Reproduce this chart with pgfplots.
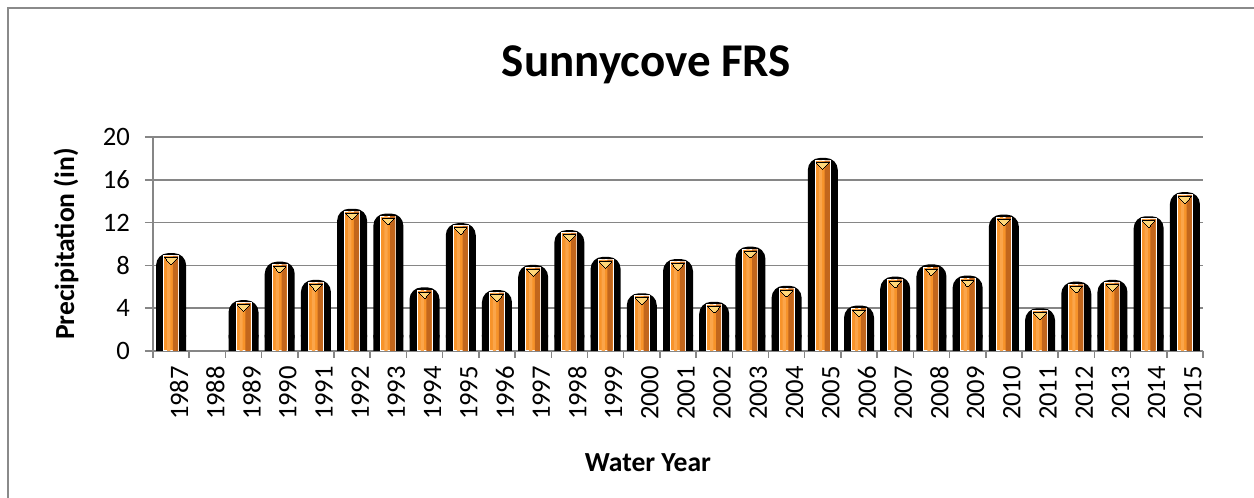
\documentclass[border=0pt]{standalone}
\usepackage{pgfplots}
\pgfplotsset{compat=1.18}
\usepackage{pgfplotstable}
\usepackage{fontspec}
\setmainfont{Carlito}
\definecolor{gridc}{HTML}{868686}
\definecolor{oM}{HTML}{F7932A}
\definecolor{oL}{HTML}{FBA54A}
\definecolor{oR}{HTML}{C2661C}
\definecolor{tri}{HTML}{FFD77A}
\definecolor{borderc}{HTML}{8A8A8A}

\pgfplotstableread{
x v base
0 8.9 1.5
1 0 0
2 4.5 1.5
3 8.1 1.5
4 6.4 1.5
5 13.05 1.5
6 12.6 1.5
7 5.7 1.5
8 11.7 1.5
9 5.45 1.5
10 7.8 1.5
11 11.05 1.5
12 8.55 1.5
13 5.15 1.5
14 8.35 1.5
15 4.35 1.5
16 9.5 1.5
17 5.85 1.5
18 17.8 1.5
19 4.0 1.5
20 6.7 1.5
21 7.85 1.5
22 6.8 1.5
23 12.5 1.5
24 3.75 1.5
25 6.23 1.5
26 6.4 1.5
27 12.35 1.5
28 14.6 1.5
}\data

\begin{document}
\begin{tikzpicture}[x=1pt,y=1pt]
\useasboundingbox (0,0) rectangle (627,249);
\draw[borderc, line width=1pt] (4,0) -- (4,245) -- (627,245);
\begin{axis}[
  at={(76.5pt,73.5pt)}, anchor=south west,
  scale only axis, width=525pt, height=107pt,
  xmin=-0.5, xmax=28.5, ymin=0, ymax=20,
  ytick={0,4,...,20},
  xtick={0,...,28},
  xticklabels={1987,1988,1989,1990,1991,1992,1993,1994,1995,1996,1997,1998,1999,2000,2001,2002,2003,2004,2005,2006,2007,2008,2009,2010,2011,2012,2013,2014,2015},
  minor xtick={-0.5,0.5,...,28.5},
  axis lines*=left,
  axis line style={gridc, line width=0.75pt},
  ymajorgrids, grid style={gridc, line width=0.75pt},
  tick align=outside,
  major tick length=4pt,
  minor tick length=3.5pt,
  major x tick style={draw=none},
  minor x tick style={gridc, line width=0.75pt},
  ytick style={gridc, line width=0.75pt},
  tick label style={font=\fontsize{13.3}{15}\selectfont},
  /pgf/number format/assume math mode=true,
  xticklabel style={rotate=90, anchor=east, yshift=-4pt},
  yticklabel style={xshift=-4pt},
  ylabel={Precipitation (in)}, xlabel={Water Year}, title={Sunnycove FRS},
  label style={font=\bfseries\fontsize{13.8}{16}\selectfont},
  ylabel style={at={(axis description cs:-0.0829,0.5)}, anchor=center},
  xlabel style={at={(axis description cs:0.4714,-0.564)}, anchor=base},
  title style={at={(axis description cs:0.470,1.2276)}, anchor=base, font=\bfseries\fontsize{23.5}{27}\selectfont},
]
\addplot[ybar, bar width=15pt, bar shift=0pt, fill=black, draw=none, rounded corners=6pt, yshift=1.3pt, restrict y to domain=0.05:30] table[x=x,y=v]{\data};
\addplot[ybar, bar width=15pt, bar shift=0pt, fill=black, draw=none, restrict y to domain=0.05:30] table[x=x,y=base]{\data};
\addplot[ybar, bar width=7.5pt, bar shift=0pt, draw=white, line width=0.5pt, fill=oM, restrict y to domain=0.05:30] table[x=x,y=v]{\data};
\addplot[ybar, bar width=2.6pt, bar shift=2.2pt, draw=none, fill=oR, restrict y to domain=0.05:30] table[x=x,y=v]{\data};
\addplot[ybar, bar width=1.6pt, bar shift=-1.2pt, draw=none, fill=oL, restrict y to domain=0.05:30] table[x=x,y=v]{\data};
\addplot[only marks, draw=none, fill=tri, mark=triangle*, mark size=3.6pt, mark options={fill=tri, draw=none, line width=0pt, yshift=-2.1pt, yscale=-0.6}, restrict y to domain=0.05:30] table[x=x,y=v]{\data};
\end{axis}
\end{tikzpicture}
\end{document}
